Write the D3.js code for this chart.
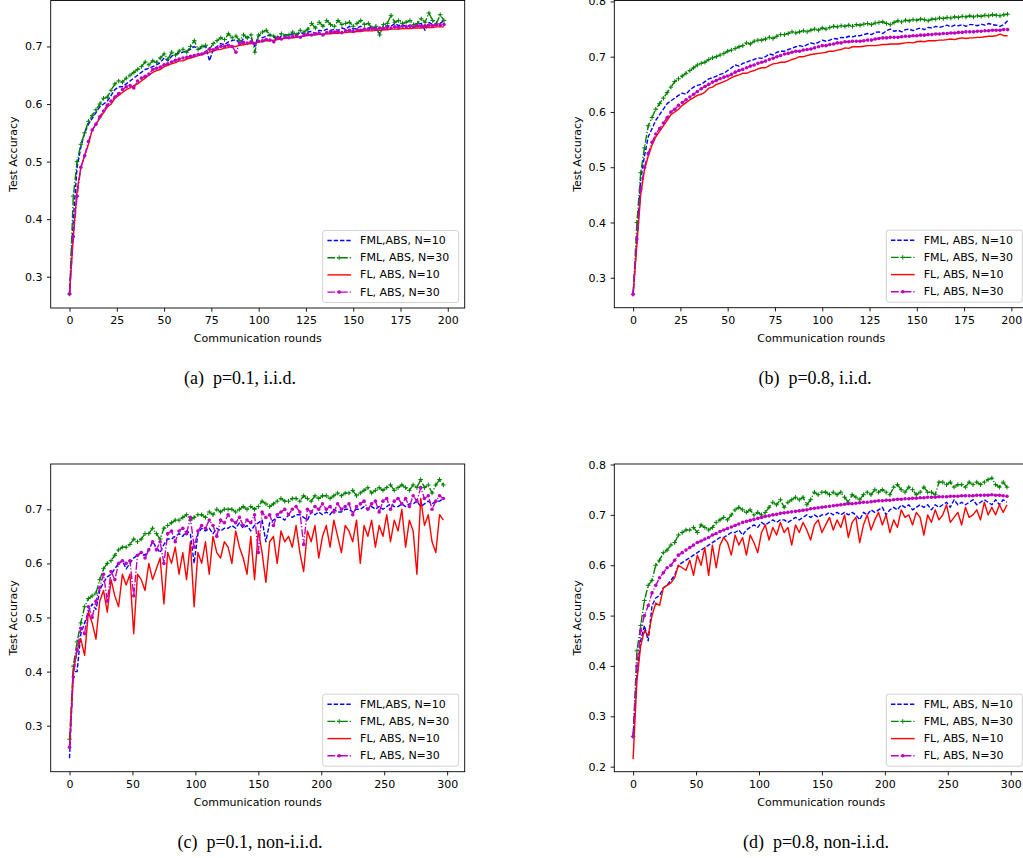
<!DOCTYPE html>
<html lang="en">
<head>
<meta charset="UTF-8">
<script src="https://d3js.org/d3.v7.min.js"></script>
<style>
  body { margin: 0; background: #fff; }
  text { font-family: "DejaVu Sans", sans-serif; fill: #000; }
  .tick text { font-size: 11px; }
  .lab { font-size: 11px; }
  .caption { font-family: "Liberation Serif", "Times New Roman", serif; font-size: 18px; white-space: pre; }
</style>
</head>
<body>
<svg id="chart" width="1023" height="858"></svg>
<script>
// communication rounds (sampled every 2 rounds for 200-round runs, every 3 for 300-round runs)
const roundsAB = d3.range(0, 200, 2);
const roundsCD = d3.range(0, 300, 3);

// (a) p=0.1, i.i.d.
const a_fml10 = [
  .27, .40, .49, .525, .55, .565, .575, .585, .595, .60,
  .605, .615, .625, .63, .63, .635, .64, .645, .65, .655,
  .66, .662, .665, .668, .672, .68, .675, .683, .686, .688,
  .69, .692, .695, .70, .695, .698, .70, .675, .695, .70,
  .705, .703, .708, .71, .712, .705, .714, .716, .715, .70,
  .72, .715, .718, .72, .716, .712, .718, .72, .72, .722,
  .72, .724, .722, .725, .726, .722, .728, .727, .73, .728,
  .73, .728, .732, .73, .735, .73, .732, .735, .728, .732,
  .735, .73, .722, .734, .736, .735, .74, .736, .738, .735,
  .737, .733, .738, .74, .728, .742, .738, .736, .74, .745];
const a_fml30 = [
  .27, .44, .50, .53, .55, .57, .58, .59, .60, .61,
  .612, .624, .635, .64, .638, .645, .65, .655, .66, .665,
  .673, .668, .675, .672, .68, .687, .678, .69, .685, .692,
  .695, .69, .70, .71, .695, .70, .702, .695, .705, .71,
  .715, .712, .722, .715, .718, .71, .72, .715, .72, .69,
  .72, .725, .728, .72, .718, .715, .722, .718, .72, .725,
  .72, .728, .725, .73, .74, .732, .742, .735, .745, .738,
  .735, .745, .738, .74, .742, .735, .74, .745, .738, .74,
  .732, .735, .72, .738, .74, .754, .742, .745, .74, .742,
  .745, .738, .74, .748, .742, .758, .745, .74, .755, .745];
const a_fl10 = [
  .27, .37, .45, .49, .51, .53, .555, .565, .575, .585,
  .595, .60, .61, .615, .62, .625, .628, .632, .635, .64,
  .645, .65, .655, .658, .66, .665, .667, .67, .672, .675,
  .675, .678, .68, .682, .684, .686, .688, .69, .692, .694,
  .695, .697, .698, .70, .70, .702, .703, .704, .705, .705,
  .708, .708, .71, .71, .711, .712, .713, .714, .715, .715,
  .716, .717, .718, .719, .72, .72, .721, .721, .722, .722,
  .723, .723, .724, .724, .725, .725, .726, .726, .727, .727,
  .727, .728, .728, .729, .729, .73, .73, .73, .731, .731,
  .731, .732, .732, .732, .733, .733, .733, .734, .734, .734];
const a_fl30 = [
  .27, .37, .44, .49, .51, .535, .555, .565, .578, .588,
  .598, .605, .612, .618, .625, .63, .632, .628, .64, .645,
  .648, .652, .66, .662, .664, .668, .67, .673, .676, .678,
  .68, .681, .683, .684, .686, .687, .69, .695, .694, .697,
  .70, .70, .702, .70, .69, .705, .707, .706, .708, .705,
  .709, .71, .712, .711, .708, .715, .713, .716, .715, .717,
  .718, .716, .72, .721, .72, .722, .723, .72, .724, .725,
  .725, .726, .724, .727, .728, .726, .729, .728, .73, .73,
  .731, .73, .732, .731, .733, .732, .734, .733, .735, .734,
  .735, .734, .736, .735, .736, .737, .736, .738, .737, .738];

// (b) p=0.8, i.i.d.
const b_fml10 = [
  .27, .37, .48, .52, .555, .57, .585, .595, .605, .615,
  .62, .625, .63, .634, .632, .64, .645, .648, .65, .655,
  .66, .662, .665, .668, .67, .675, .68, .685, .683, .688,
  .69, .693, .695, .698, .697, .70, .705, .703, .708, .71,
  .71, .713, .715, .718, .72, .718, .722, .725, .723, .726,
  .73, .728, .73, .733, .732, .735, .734, .737, .736, .738,
  .738, .74, .742, .74, .744, .745, .742, .747, .75, .746,
  .748, .745, .749, .75, .747, .75, .752, .749, .753, .752,
  .755, .753, .755, .757, .754, .757, .756, .758, .755, .758,
  .758, .756, .759, .757, .76, .758, .757, .755, .758, .765];
const b_fml30 = [
  .27, .40, .49, .535, .575, .59, .605, .615, .625, .635,
  .645, .655, .66, .665, .67, .675, .68, .685, .688, .69,
  .695, .698, .70, .703, .706, .71, .712, .715, .718, .72,
  .725, .723, .728, .73, .73, .732, .735, .733, .737, .74,
  .74, .742, .745, .743, .745, .747, .745, .748, .75, .748,
  .752, .75, .753, .755, .754, .756, .755, .757, .755, .758,
  .757, .759, .76, .758, .761, .762, .763, .76, .758, .762,
  .765, .763, .766, .765, .767, .766, .768, .767, .765, .768,
  .768, .77, .769, .771, .77, .772, .771, .773, .772, .774,
  .772, .774, .773, .775, .774, .776, .775, .774, .776, .777];
const b_fl10 = [
  .27, .36, .45, .495, .52, .54, .555, .565, .575, .585,
  .595, .60, .605, .612, .617, .622, .626, .63, .632, .636,
  .643, .645, .65, .652, .655, .658, .662, .665, .667, .67,
  .67, .673, .675, .678, .68, .68, .684, .687, .688, .69,
  .69, .692, .695, .697, .70, .70, .702, .704, .705, .706,
  .707, .708, .71, .71, .712, .713, .716, .715, .718, .718,
  .718, .719, .72, .72, .72, .721, .722, .722, .723, .723,
  .723, .724, .725, .726, .725, .727, .728, .727, .729, .729,
  .729, .73, .73, .731, .732, .731, .733, .734, .733, .734,
  .734, .735, .735, .736, .737, .737, .738, .741, .738, .738];
const b_fl30 = [
  .27, .37, .46, .50, .525, .545, .56, .57, .58, .59,
  .60, .605, .612, .617, .622, .627, .632, .637, .642, .646,
  .65, .654, .657, .66, .663, .665, .668, .672, .675, .677,
  .68, .683, .685, .688, .69, .692, .695, .697, .70, .702,
  .705, .706, .708, .71, .71, .712, .713, .714, .716, .718,
  .72, .72, .722, .723, .725, .725, .727, .727, .728, .728,
  .728, .729, .73, .73, .732, .733, .734, .734, .735, .735,
  .735, .736, .737, .737, .738, .738, .739, .739, .74, .74,
  .741, .741, .742, .742, .743, .743, .744, .744, .745, .745,
  .745, .746, .746, .747, .747, .748, .748, .748, .749, .749];

// (c) p=0.1, non-i.i.d.
const c_fml10 = [
  .24, .40, .40, .47, .49, .51, .525, .515, .55, .565,
  .575, .58, .59, .60, .605, .59, .60, .61, .615, .62,
  .615, .625, .64, .63, .62, .635, .645, .645, .65, .655,
  .65, .66, .655, .60, .655, .665, .66, .665, .655, .665,
  .66, .665, .665, .67, .665, .675, .665, .67, .66, .67,
  .675, .68, .64, .675, .68, .685, .685, .68, .69, .685,
  .69, .69, .685, .68, .695, .69, .695, .69, .695, .69,
  .70, .695, .695, .70, .70, .695, .70, .70, .705, .70,
  .705, .70, .705, .70, .705, .71, .705, .705, .71, .705,
  .71, .71, .715, .705, .71, .715, .71, .715, .715, .72];
const c_fml30 = [
  .275, .41, .455, .49, .52, .535, .54, .545, .57, .59,
  .60, .605, .615, .625, .63, .63, .635, .645, .64, .645,
  .655, .655, .665, .655, .645, .665, .67, .675, .68, .68,
  .685, .69, .68, .685, .69, .69, .685, .695, .69, .70,
  .695, .70, .70, .70, .695, .70, .705, .70, .705, .70,
  .705, .715, .71, .705, .71, .715, .72, .715, .715, .72,
  .72, .715, .725, .72, .715, .725, .72, .725, .725, .72,
  .725, .73, .725, .73, .73, .735, .725, .73, .735, .74,
  .73, .735, .74, .735, .74, .745, .735, .74, .745, .74,
  .735, .745, .74, .755, .74, .745, .73, .745, .755, .745];
const c_fl10 = [
  .26, .40, .44, .46, .43, .51, .49, .46, .53, .55,
  .51, .57, .54, .52, .58, .56, .58, .47, .58, .57,
  .55, .60, .57, .59, .61, .525, .62, .60, .63, .58,
  .62, .57, .64, .52, .62, .60, .64, .58, .65, .62,
  .61, .64, .63, .60, .66, .63, .61, .58, .65, .57,
  .66, .62, .565, .64, .65, .60, .66, .64, .65, .63,
  .67, .62, .585, .66, .64, .67, .61, .65, .67, .63,
  .68, .65, .62, .67, .66, .64, .68, .60, .67, .65,
  .68, .63, .67, .65, .69, .64, .68, .66, .70, .63,
  .68, .66, .58, .72, .67, .69, .64, .62, .69, .68];
const c_fl30 = [
  .26, .39, .44, .48, .47, .52, .50, .53, .555, .58,
  .53, .585, .57, .60, .605, .60, .605, .54, .615, .62,
  .61, .625, .64, .625, .64, .60, .655, .66, .64, .66,
  .665, .655, .685, .63, .66, .67, .665, .68, .67, .65,
  .68, .675, .69, .68, .675, .685, .67, .68, .675, .69,
  .62, .695, .685, .69, .67, .69, .695, .70, .69, .70,
  .705, .695, .635, .70, .695, .705, .70, .71, .70, .705,
  .695, .71, .70, .705, .71, .69, .705, .71, .715, .70,
  .71, .715, .695, .715, .72, .70, .715, .72, .71, .72,
  .705, .725, .715, .74, .72, .725, .70, .715, .725, .72];

// (d) p=0.8, non-i.i.d.
const d_fml10 = [
  .26, .38, .45, .48, .45, .52, .535, .54, .555, .56,
  .57, .58, .60, .605, .61, .615, .62, .625, .63, .635,
  .64, .645, .65, .655, .655, .66, .665, .665, .67, .66,
  .67, .675, .68, .675, .685, .68, .685, .69, .685, .69,
  .69, .685, .69, .695, .69, .695, .70, .695, .70, .695,
  .70, .70, .705, .70, .705, .70, .705, .70, .705, .70,
  .69, .705, .70, .71, .705, .71, .715, .70, .71, .715,
  .71, .72, .715, .72, .71, .715, .72, .715, .72, .71,
  .72, .715, .72, .725, .715, .73, .72, .725, .72, .725,
  .73, .72, .725, .73, .725, .72, .73, .72, .73, .725];
const d_fml30 = [
  .26, .43, .48, .53, .56, .57, .60, .61, .625, .63,
  .64, .645, .66, .665, .67, .67, .675, .665, .68, .675,
  .67, .675, .685, .69, .695, .69, .70, .71, .715, .71,
  .705, .71, .70, .705, .70, .705, .715, .725, .72, .73,
  .715, .725, .73, .735, .73, .735, .72, .73, .745, .74,
  .745, .745, .74, .745, .74, .745, .735, .725, .74, .735,
  .73, .74, .745, .74, .75, .745, .75, .745, .74, .755,
  .76, .75, .745, .755, .75, .74, .745, .755, .745, .745,
  .74, .765, .765, .76, .765, .755, .76, .76, .755, .765,
  .76, .765, .76, .765, .77, .773, .76, .755, .765, .755];
const d_fl10 = [
  .215, .37, .44, .47, .46, .50, .525, .52, .555, .56,
  .565, .575, .60, .595, .59, .61, .58, .62, .60, .635,
  .58, .64, .595, .64, .655, .645, .62, .66, .64, .655,
  .62, .66, .645, .625, .665, .68, .65, .675, .66, .685,
  .665, .675, .64, .68, .665, .685, .67, .65, .68, .69,
  .665, .68, .695, .67, .69, .675, .70, .655, .685, .695,
  .645, .68, .70, .67, .69, .705, .68, .70, .665, .69,
  .675, .71, .695, .70, .68, .705, .695, .66, .70, .685,
  .71, .69, .70, .72, .685, .695, .705, .68, .715, .695,
  .70, .71, .69, .725, .70, .715, .70, .72, .705, .72];
const d_fl30 = [
  .26, .40, .47, .50, .52, .545, .56, .575, .585, .595,
  .60, .61, .62, .625, .63, .635, .64, .645, .648, .652,
  .655, .66, .663, .667, .67, .673, .676, .679, .682, .685,
  .687, .689, .691, .693, .695, .697, .698, .70, .701, .703,
  .704, .705, .706, .707, .708, .709, .71, .712, .713, .714,
  .715, .716, .717, .718, .719, .72, .721, .722, .722, .723,
  .724, .725, .725, .726, .727, .728, .728, .729, .729, .73,
  .731, .731, .732, .732, .733, .733, .734, .734, .735, .735,
  .735, .736, .736, .736, .737, .737, .737, .738, .738, .738,
  .738, .739, .739, .739, .739, .74, .739, .739, .738, .737];

// ticks and labels
const xTicksAB = [0, 25, 50, 75, 100, 125, 150, 175, 200];
const xTicksCD = [0, 50, 100, 150, 200, 250, 300];
const yTicksA = [0.3, 0.4, 0.5, 0.6, 0.7];
const yTicksB = [0.3, 0.4, 0.5, 0.6, 0.7, 0.8];
const yTicksC = [0.3, 0.4, 0.5, 0.6, 0.7];
const yTicksD = [0.2, 0.3, 0.4, 0.5, 0.6, 0.7, 0.8];
const legendAC = ["FML,ABS, N=10", "FML, ABS, N=30", "FL, ABS, N=10", "FL, ABS, N=30"];
const legendBD = ["FML, ABS, N=10", "FML, ABS, N=30", "FL, ABS, N=10", "FL, ABS, N=30"];
const captions = ["(a)  p=0.1, i.i.d.", "(b)  p=0.8, i.i.d.", "(c)  p=0.1, non-i.i.d.", "(d)  p=0.8, non-i.i.d."];

const styles = [
  { color: "#0000ff", dash: "4.4,1.9", marker: null },
  { color: "#008000", dash: "7.7,1.9,1.2,1.9", marker: "plus" },
  { color: "#ff0000", dash: null, marker: null },
  { color: "#bf00bf", dash: "7.7,1.9,1.2,1.9", marker: "dot" }
];

const panels = [
  { id: "a", left: 50.7, top: 0.5, w: 414, h: 307.5, xd: [-9.95, 208.95], yd: [0.2457, 0.7798],
    rounds: roundsAB, series: [a_fml10, a_fml30, a_fl10, a_fl30], xt: xTicksAB, yt: yTicksA,
    legend: legendAC, cap: captions[0], capX: 240, capY: 378 },
  { id: "b", left: 614.3, top: 0.5, w: 414, h: 307.2, xd: [-9.95, 208.95], yd: [0.2458, 0.8017],
    rounds: roundsAB, series: [b_fml10, b_fml30, b_fl10, b_fl30], xt: xTicksAB, yt: yTicksB,
    legend: legendBD, cap: captions[1], capX: 815, capY: 378 },
  { id: "c", left: 50.7, top: 464, w: 414, h: 307.7, xd: [-14.95, 313.95], yd: [0.215, 0.7837],
    rounds: roundsCD, series: [c_fml10, c_fml30, c_fl10, c_fl30], xt: xTicksCD, yt: yTicksC,
    legend: legendAC, cap: captions[2], capX: 250, capY: 842 },
  { id: "d", left: 614.3, top: 464, w: 414, h: 307.7, xd: [-14.95, 313.95], yd: [0.19, 0.801],
    rounds: roundsCD, series: [d_fml10, d_fml30, d_fl10, d_fl30], xt: xTicksCD, yt: yTicksD,
    legend: legendBD, cap: captions[3], capX: 816, capY: 842 }
];

const svg = d3.select("#chart");
svg.append("rect").attr("width", 1023).attr("height", 858).attr("fill", "#fff");

function drawMarker(g, kind, px, py, color) {
  if (kind === "plus") {
    g.append("path")
      .attr("d", `M${px - 2.3},${py}H${px + 2.3}M${px},${py - 2.3}V${py + 2.3}`)
      .attr("stroke", color).attr("stroke-width", 1).attr("fill", "none");
  } else if (kind === "dot") {
    g.append("circle").attr("cx", px).attr("cy", py).attr("r", 1.8).attr("fill", color);
  }
}

panels.forEach(p => {
  const x = d3.scaleLinear().domain(p.xd).range([p.left, p.left + p.w]);
  const y = d3.scaleLinear().domain(p.yd).range([p.top + p.h, p.top]);
  const g = svg.append("g");

  g.append("clipPath").attr("id", "clip-" + p.id)
    .append("rect").attr("x", p.left).attr("y", p.top).attr("width", p.w).attr("height", p.h);

  const plot = g.append("g").attr("clip-path", `url(#clip-${p.id})`);
  const line = d3.line().x(d => x(d[0])).y(d => y(d[1]));

  p.series.forEach((vals, i) => {
    const st = styles[i];
    const pts = p.rounds.map((r, k) => [r, vals[k]]).filter(d => d[1] != null);
    plot.append("path").datum(pts)
      .attr("d", line)
      .attr("fill", "none")
      .attr("stroke", st.color)
      .attr("stroke-width", 1.4)
      .attr("stroke-dasharray", st.dash)
      .attr("stroke-linejoin", "round");
    if (st.marker) {
      const mg = plot.append("g");
      pts.forEach(d => drawMarker(mg, st.marker, x(d[0]), y(d[1]), st.color));
    }
  });

  // axes
  const xa = g.append("g").attr("transform", `translate(0,${p.top + p.h})`)
    .call(d3.axisBottom(x).tickValues(p.xt).tickSize(3.7).tickPadding(4.5).tickFormat(d3.format("d")));
  const ya = g.append("g").attr("transform", `translate(${p.left},0)`)
    .call(d3.axisLeft(y).tickValues(p.yt).tickSize(3.7).tickPadding(4.5).tickFormat(d3.format(".1f")));
  [xa, ya].forEach(a => {
    a.select(".domain").remove();
    a.selectAll(".tick line").attr("stroke", "#000").attr("stroke-width", 0.9);
    a.selectAll(".tick text").attr("font-family", "DejaVu Sans").attr("font-size", 11);
  });

  g.append("rect").attr("x", p.left).attr("y", p.top).attr("width", p.w).attr("height", p.h)
    .attr("fill", "none").attr("stroke", "#000").attr("stroke-width", 0.9);

  g.append("text").attr("class", "lab")
    .attr("x", p.left + p.w / 2).attr("y", p.top + p.h + 30.5)
    .attr("text-anchor", "middle").attr("dominant-baseline", "central")
    .text("Communication rounds");
  g.append("text").attr("class", "lab")
    .attr("transform", `translate(${p.left - 37},${p.top + p.h / 2}) rotate(-90)`)
    .attr("text-anchor", "middle").attr("dominant-baseline", "central")
    .text("Test Accuracy");

  // legend
  const bw = 136, bh = 72;
  const bx = p.left + p.w - 6 - bw, by = p.top + p.h - 5.5 - bh;
  const lg = g.append("g");
  lg.append("rect").attr("x", bx).attr("y", by).attr("width", bw).attr("height", bh)
    .attr("rx", 2.5).attr("fill", "#fff").attr("fill-opacity", 0.8)
    .attr("stroke", "#d0d0d0").attr("stroke-width", 1);
  p.legend.forEach((lab, i) => {
    const st = styles[i];
    const ry = by + 10 + i * 17.2;
    lg.append("line").attr("x1", bx + 4.7).attr("x2", bx + 28.4).attr("y1", ry).attr("y2", ry)
      .attr("stroke", st.color).attr("stroke-width", 1.4).attr("stroke-dasharray", st.dash);
    if (st.marker) drawMarker(lg, st.marker, bx + 16.5, ry, st.color);
    lg.append("text").attr("class", "lab").attr("x", bx + 37.4).attr("y", ry)
      .attr("dominant-baseline", "central").text(lab);
  });

  svg.append("text").attr("class", "caption")
    .attr("x", p.capX).attr("y", p.capY)
    .attr("text-anchor", "middle").attr("dominant-baseline", "central")
    .text(p.cap);
});
</script>
</body>
</html>
